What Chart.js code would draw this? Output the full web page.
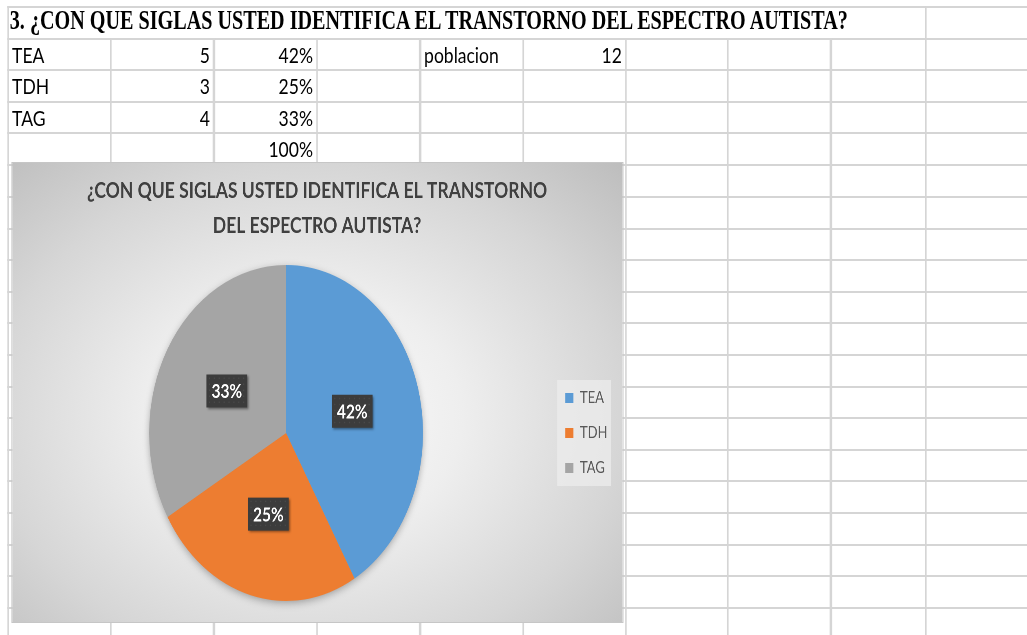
<!DOCTYPE html>
<html><head><meta charset="utf-8">
<script src="https://cdn.jsdelivr.net/npm/chart.js@4.4.0/dist/chart.umd.min.js"></script>
<style>
html,body{margin:0;padding:0;background:#fff;overflow:hidden;width:1027px;height:635px;}
#sheet{position:absolute;left:0;top:0;width:1261px;height:635px;transform:scaleX(0.815);transform-origin:0 0;}
.hl{position:absolute;height:2px;background:#d5d5d5;}
.vl{position:absolute;width:2.4px;background:#d5d5d5;}
.cell{position:absolute;font-family:Lato,'Liberation Sans',sans-serif;font-size:21.5px;color:#000;white-space:nowrap;line-height:31px;}
#qtitle{position:absolute;left:12px;top:4px;font-family:'Liberation Serif','Times New Roman',serif;font-weight:bold;font-size:27px;line-height:32px;white-space:nowrap;color:#000;transform-origin:0 0;}
#chartBox{position:absolute;left:14.7px;top:163px;width:749px;height:459px;
  background:radial-gradient(ellipse farthest-corner at 48% 55%, #fdfdfd 0%, #eeeeee 35%, #d6d6d6 70%, #bdbdbd 100%);
  box-shadow:0 0 0 1px #c6c6c6;}
</style>
</head><body>
<div id="sheet">
  <div id="grid"></div>
  <div id="qtitle"></div>
  <div id="chartBox"><canvas id="c"></canvas></div>
</div>
<script>
// ---- data ----
const categories = ['TEA', 'TDH', 'TAG'];
const counts = [5, 3, 4];
const population = 12;
const populationLabel = 'poblacion';
const questionTitle = '3. ¿CON QUE SIGLAS USTED IDENTIFICA EL TRANSTORNO DEL ESPECTRO AUTISTA?';
const chartTitleLines = ['¿CON QUE SIGLAS USTED IDENTIFICA EL TRANSTORNO', 'DEL ESPECTRO AUTISTA?'];

const total = counts.reduce((a, b) => a + b, 0);
const pctLabels = counts.map(c => Math.round(c / total * 100) + '%');

// ---- spreadsheet layout ----
const S = 0.815;
const colRef = [8, 111, 214, 317, 420, 523, 626, 728, 831, 926];
const rowY = [7, 39, 70, 102, 133, 165, 197, 229, 260, 292, 323, 355, 387, 418, 450, 481, 513, 545, 576, 608, 640];
const colX = colRef.map(x => x / S);
const grid = document.getElementById('grid');
rowY.forEach(y => {
  const d = document.createElement('div'); d.className = 'hl';
  d.style.left = (7 / S) + 'px'; d.style.width = (1261 - 7 / S) + 'px'; d.style.top = (y - 1) + 'px';
  grid.appendChild(d);
});
colX.forEach((x, i) => {
  const d = document.createElement('div'); d.className = 'vl';
  const top = (i === 0 || i === colX.length - 1) ? rowY[0] : rowY[1];
  d.style.left = (x - 1.2) + 'px'; d.style.top = (top - 1) + 'px'; d.style.height = (640 - top) + 'px';
  grid.appendChild(d);
});
function addCell(col, row, text, align) {
  const d = document.createElement('div'); d.className = 'cell'; d.textContent = text;
  d.style.top = (rowY[row] + 1) + 'px';
  if (align === 'right') { d.style.right = (1261 - colX[col + 1] + 5) + 'px'; }
  else { d.style.left = (colX[col] + 5) + 'px'; }
  grid.appendChild(d);
}
categories.forEach((c, i) => {
  addCell(0, i + 1, c, 'left');
  addCell(1, i + 1, String(counts[i]), 'right');
  addCell(2, i + 1, pctLabels[i], 'right');
});
addCell(2, 4, Math.round(counts.reduce((a, c) => a + c / total * 100, 0)) + '%', 'right');
addCell(4, 1, populationLabel, 'left');
addCell(5, 1, String(population), 'right');

const qt = document.getElementById('qtitle');
qt.textContent = questionTitle;
qt.style.transform = 'scaleX(' + ((838 / S) / qt.offsetWidth) + ')';

// ---- chart ----
const pieShadow = {
  id: 'pieShadow',
  beforeDatasetsDraw(chart) {
    const a = chart.getDatasetMeta(0).data[0];
    if (!a) return;
    const ctx = chart.ctx;
    ctx.save();
    ctx.shadowColor = 'rgba(0,0,0,0.35)'; ctx.shadowBlur = 18; ctx.shadowOffsetY = 5;
    ctx.beginPath(); ctx.arc(a.x, a.y, a.outerRadius - 1, 0, Math.PI * 2);
    ctx.fillStyle = '#a5a5a5'; ctx.fill();
    ctx.restore();
  }
};
const legendBg = {
  id: 'legendBg',
  beforeDraw(chart) {
    const lg = chart.legend;
    if (!lg || !lg.legendHitBoxes || !lg.legendHitBoxes.length) return;
    const hb = lg.legendHitBoxes;
    const last = hb[hb.length - 1];
    const ctx = chart.ctx;
    ctx.save();
    ctx.fillStyle = 'rgba(236,236,236,0.75)';
    ctx.fillRect(hb[0].left - 10, hb[0].top - 10, 66, last.top + last.height + 10 - (hb[0].top - 10));
    ctx.restore();
  }
};
const boxLabels = {
  id: 'boxLabels',
  afterDatasetsDraw(chart) {
    const ctx = chart.ctx;
    const meta = chart.getDatasetMeta(0);
    meta.data.forEach((arc, i) => {
      const p = arc.getProps(['x', 'y', 'startAngle', 'endAngle', 'outerRadius'], true);
      const mid = (p.startAngle + p.endAngle) / 2;
      const px = p.x + Math.cos(mid) * p.outerRadius * 0.5;
      const py = p.y + Math.sin(mid) * p.outerRadius * 0.5;
      const w = 50, h = 33;
      ctx.save();
      ctx.shadowColor = 'rgba(0,0,0,0.45)'; ctx.shadowBlur = 5; ctx.shadowOffsetX = 3; ctx.shadowOffsetY = 3;
      ctx.fillStyle = '#3c3c3c';
      ctx.fillRect(px - w / 2, py - h / 2, w, h);
      ctx.restore();
      ctx.save();
      ctx.fillStyle = 'rgba(255,255,255,0.07)';
      for (let dx = 3; dx < w; dx += 6) for (let dy = 3; dy < h; dy += 6) ctx.fillRect(px - w / 2 + dx, py - h / 2 + dy, 1.5, 1.5);
      ctx.fillStyle = '#ffffff';
      ctx.font = 'bold 19px Lato, "Liberation Sans", sans-serif';
      ctx.textAlign = 'center'; ctx.textBaseline = 'middle';
      ctx.fillText(pctLabels[i], px, py + 1);
      ctx.restore();
    });
  }
};

new Chart(document.getElementById('c'), {
  type: 'pie',
  data: {
    labels: categories,
    datasets: [{
      data: counts,
      backgroundColor: ['#5B9BD5', '#ED7D31', '#A5A5A5'],
      borderWidth: 0
    }]
  },
  options: {
    responsive: true,
    maintainAspectRatio: false,
    animation: false,
    devicePixelRatio: 2,
    layout: { padding: { left: 12.4, right: 13.4, top: 0, bottom: 21 } },
    plugins: {
      title: {
        display: true,
        text: chartTitleLines,
        color: '#404040',
        font: { family: 'Lato, "Liberation Sans", sans-serif', size: 21.5, weight: 'bold', lineHeight: 35 / 21.5 },
        padding: { top: 10.5, bottom: 21.5 }
      },
      legend: {
        display: true,
        position: 'right',
        fullSize: false,
        maxWidth: 76,
        labels: {
          boxWidth: 10, boxHeight: 10, padding: 19, color: '#595959',
          font: { family: 'Lato, "Liberation Sans", sans-serif', size: 16 }
        }
      },
      tooltip: { enabled: false }
    }
  },
  plugins: [legendBg, pieShadow, boxLabels]
});
</script>
</body></html>
